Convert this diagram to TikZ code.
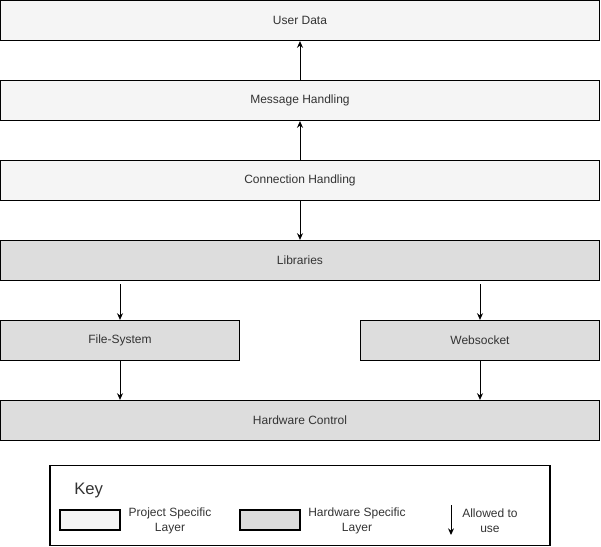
\documentclass[tikz,border=0pt]{standalone}
\usepackage{fontspec}
\setmainfont{Liberation Sans}
\usetikzlibrary{arrows.meta}
\definecolor{projfill}{HTML}{F5F5F5}
\definecolor{hwfill}{HTML}{DDDDDD}
\definecolor{txt}{HTML}{333333}
\begin{document}
\begin{tikzpicture}[x=0.75pt,y=-0.75pt,
  layer/.style={draw=black,line width=0.9pt,minimum height=30pt,inner sep=0pt,
    text=txt,font=\fontsize{9}{11}\selectfont},
  proj/.style={layer,fill=projfill},
  hw/.style={layer,fill=hwfill},
  wide/.style={minimum width=449pt},
  half/.style={minimum width=179.25pt},
  conn/.style={line width=0.75pt,-{Stealth[length=5pt,width=4.5pt]}},
  keytxt/.style={text=txt,font=\fontsize{9}{11}\selectfont,align=center,inner sep=0pt}]
\useasboundingbox (0,0) rectangle (601,547);

% layer stack
\node[proj,wide] (user) at (300,20.5) {User Data};
\node[proj,wide] (msg)  at (300,100.5) {Message Handling};
\node[proj,wide] (conn) at (300,180.5) {Connection Handling};
\node[hw,wide]   (lib)  at (300,260.5) {Libraries};
\node[hw,half]   (fs)   at (120,340.5) {File-System};
\node[hw,half]   (ws)   at (480,340.5) {Websocket};
\node[hw,wide]   (hwc)  at (300,420.5) {Hardware Control};

% dependencies
\draw[conn] (msg.north) -- (user.south);
\draw[conn] (conn.north) -- (msg.south);
\draw[conn] (conn.south) -- (lib.north);
\draw[conn,shorten <=2.2pt] (lib.south -| fs.north) -- (fs.north);
\draw[conn,shorten <=2.2pt] (lib.south -| ws.north) -- (ws.north);
\draw[conn] (fs.south) -- (fs.south |- hwc.north);
\draw[conn] (ws.south) -- (ws.south |- hwc.north);

% key
\node[draw=black,line width=0.9pt,minimum width=375pt,minimum height=60pt,inner sep=0pt] (key) at (300,505.5) {};
\node[anchor=west,text=txt,font=\fontsize{12.5}{14}\selectfont,inner sep=0pt] (keytitle) at (74,490) {Key};
\node[proj,minimum width=45pt,minimum height=15pt] (kproj) at (90,520) {};
\node[keytxt] (kprojt) at (170,521) {Project Specific\\Layer};
\node[hw,minimum width=45pt,minimum height=15pt] (khw) at (270,520) {};
\node[keytxt] (khwt) at (357,521) {Hardware Specific\\Layer};
\coordinate (ktop) at (451,505);
\coordinate (kbot) at (451,535);
\draw[conn] (ktop) -- (kbot);
\node[keytxt] (karr) at (490,521) {Allowed to\\use};
\end{tikzpicture}
\end{document}
